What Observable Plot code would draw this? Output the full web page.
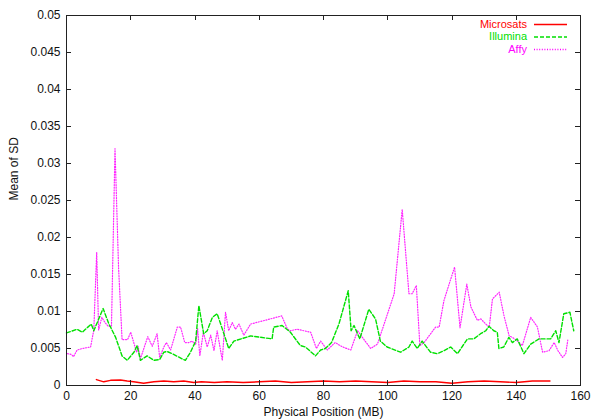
<!DOCTYPE html>
<html>
<head>
<meta charset="utf-8">
<script src="https://cdn.jsdelivr.net/npm/d3@7"></script>
<script src="https://cdn.jsdelivr.net/npm/@observablehq/plot@0.6"></script>
<style>
  html, body { margin: 0; padding: 0; background: #fff; }
  #chart { width: 600px; height: 420px; overflow: hidden; }
</style>
</head>
<body>
<div id="chart"></div>
<script>
// ---- Data ----
const seriesNames = ["Microsats", "Illumina", "Affy"];
const seriesColors = ["#ff0000", "#00e000", "#ff00ff"];

const microsatsPos = [9.3, 11.6, 13.7, 16.8, 18.9, 20.9, 24, 27.2, 30.3, 33.4, 36.5, 39.6, 42, 46, 50, 55, 60, 65, 70, 75, 80, 85, 90, 95, 100, 105, 110, 115, 120, 125, 130, 135, 140, 145, 150.5];
const microsatsSD = [0.0008, 0.0005, 0.0007, 0.00075, 0.0006, 0.0005, 0.0003, 0.0005, 0.0006, 0.0005, 0.0006, 0.0004, 0.0005, 0.0004, 0.0005, 0.0004, 0.0005, 0.0006, 0.0004, 0.0005, 0.0006, 0.0005, 0.0006, 0.0005, 0.0004, 0.0006, 0.0005, 0.0005, 0.0003, 0.0005, 0.0006, 0.0005, 0.0004, 0.0006, 0.0006];

const illuminaPos = [0, 3.3, 4.9, 5.9, 7.7, 8.5, 11.4, 13.2, 13.7, 15.3, 17.3, 18.9, 21, 22, 23, 25.1, 27.2, 29, 30.3, 31.3, 32.9, 36, 37, 38.6, 40.2, 41.2, 42.7, 43.8, 45.4, 46.9, 48, 50.5, 52.1, 57.3, 64, 64.5, 67.1, 69.7, 72.8, 74.4, 77.5, 79.1, 80.6, 82.5, 84.8, 87.7, 88.6, 89.5, 91.3, 94.1, 96.2, 97.7, 99.8, 104, 106.6, 107.6, 109.2, 110.7, 113.3, 115.4, 117.5, 119.6, 121.7, 124.8, 126.8, 128.9, 130.5, 131.5, 133, 134.1, 134.6, 136.1, 137.7, 138.8, 140.3, 142.4, 144.5, 147.1, 150.7, 152.3, 153.3, 154.8, 156.7, 157.9];
const illuminaSD = [0.0071, 0.0076, 0.0072, 0.0076, 0.0083, 0.0074, 0.0104, 0.0083, 0.0079, 0.0065, 0.0040, 0.0034, 0.0045, 0.0054, 0.0034, 0.0040, 0.0034, 0.0035, 0.0045, 0.0046, 0.0043, 0.0036, 0.0034, 0.0045, 0.0060, 0.0108, 0.0070, 0.0074, 0.0092, 0.0097, 0.0083, 0.0050, 0.0060, 0.0067, 0.0063, 0.0079, 0.0081, 0.0072, 0.0054, 0.0052, 0.0040, 0.0048, 0.0050, 0.0058, 0.0083, 0.0128, 0.0074, 0.0081, 0.0063, 0.0103, 0.0090, 0.0060, 0.0052, 0.0045, 0.0052, 0.0060, 0.0050, 0.0060, 0.0045, 0.0043, 0.0047, 0.0052, 0.0043, 0.0063, 0.0063, 0.0070, 0.0074, 0.0080, 0.0074, 0.0072, 0.0050, 0.0052, 0.0065, 0.0058, 0.0063, 0.0043, 0.0056, 0.0063, 0.0063, 0.0074, 0.0058, 0.0097, 0.0099, 0.0074];

const affyPos = [0.3, 1.5, 2.2, 3.3, 5, 7.5, 8.5, 9.4, 10, 11, 12, 13, 14, 15.1, 16.2, 17.3, 19, 20, 21.8, 22.3, 23, 25.3, 26.7, 28.2, 29, 30.3, 31.1, 32.4, 34.5, 35.5, 36.8, 38.1, 39.1, 40.2, 40.8, 41.5, 42.6, 43.8, 44.9, 45.9, 46.9, 48.5, 49.5, 50.5, 51.6, 52.6, 53.7, 55.2, 57.3, 67, 68.8, 69.7, 71.8, 76, 77.8, 79.1, 81.2, 83.6, 86, 88.5, 90.6, 92.1, 94.7, 96.8, 102, 104.5, 106.6, 107.6, 108.9, 110, 111.3, 114.9, 116, 117.5, 120.8, 122.5, 124.6, 125.9, 127.9, 129, 130.5, 131.6, 132.6, 134.7, 136.2, 137.8, 138.8, 140.4, 141.9, 144.5, 146.6, 148.2, 150.2, 151.8, 153, 154.4, 155.4, 156.1];
const affySD = [0.0043, 0.0042, 0.0039, 0.0048, 0.0050, 0.0052, 0.0075, 0.0180, 0.0075, 0.0092, 0.0085, 0.0080, 0.0080, 0.0320, 0.0160, 0.0062, 0.0062, 0.0072, 0.0045, 0.0053, 0.0036, 0.0066, 0.0053, 0.0070, 0.0038, 0.0052, 0.0058, 0.0048, 0.0079, 0.0079, 0.0058, 0.0058, 0.0060, 0.0055, 0.0077, 0.0040, 0.0072, 0.0052, 0.0068, 0.0047, 0.0074, 0.0034, 0.0099, 0.0074, 0.0085, 0.0076, 0.0083, 0.0068, 0.0083, 0.0094, 0.0076, 0.0074, 0.0076, 0.0072, 0.0050, 0.0060, 0.0048, 0.0058, 0.0052, 0.0048, 0.0074, 0.0065, 0.0050, 0.0056, 0.0124, 0.0238, 0.0124, 0.0124, 0.0135, 0.0054, 0.0058, 0.0079, 0.0079, 0.0115, 0.0160, 0.0078, 0.0137, 0.0106, 0.0088, 0.0090, 0.0083, 0.0079, 0.0117, 0.0126, 0.0094, 0.0067, 0.0065, 0.0060, 0.0054, 0.0092, 0.0079, 0.0045, 0.0047, 0.0058, 0.0047, 0.0038, 0.0043, 0.0063];

const xTicks = [0, 20, 40, 60, 80, 100, 120, 140, 160];
const yTicks = [0, 0.005, 0.01, 0.015, 0.02, 0.025, 0.03, 0.035, 0.04, 0.045, 0.05];
const yTickLabels = ["0", "0.005", "0.01", "0.015", "0.02", "0.025", "0.03", "0.035", "0.04", "0.045", "0.05"];
const xLabel = "Physical Position (MB)";
const yLabel = "Mean of SD";

// ---- Build tables ----
const toRows = (xs, ys) => xs.map((x, i) => ({x, y: ys[i]}));
const microsats = toRows(microsatsPos, microsatsSD);
const illumina = toRows(illuminaPos, illuminaSD);
const affy = toRows(affyPos, affySD);
const dashes = [null, "4,2", "1,1.6"];

// inward ticks on all four sides of the frame
function frameTicks(index, scales, values, dimensions) {
  const {x, y} = scales;
  const {width, height, marginLeft, marginRight, marginTop, marginBottom} = dimensions;
  const L = marginLeft, R = width - marginRight, T = marginTop, B = height - marginBottom;
  const len = 5;
  const g = d3.create("svg:g").attr("stroke", "#222").attr("stroke-width", 1);
  for (const t of xTicks) {
    const px = Math.round(x(t)) + 0.5;
    g.append("line").attr("x1", px).attr("x2", px).attr("y1", B).attr("y2", B - len);
    g.append("line").attr("x1", px).attr("x2", px).attr("y1", T).attr("y2", T + len);
  }
  for (const t of yTicks) {
    const py = Math.round(y(t)) + 0.5;
    g.append("line").attr("y1", py).attr("y2", py).attr("x1", L).attr("x2", L + len);
    g.append("line").attr("y1", py).attr("y2", py).attr("x1", R).attr("x2", R - len);
  }
  return g.node();
}

function legend(index, scales, values, dimensions) {
  const {width, marginRight, marginTop} = dimensions;
  const R = width - marginRight;
  const g = d3.create("svg:g");
  seriesNames.forEach((name, i) => {
    const cy = marginTop + 9 + i * 12.5;
    g.append("text")
      .attr("x", R - 53).attr("y", cy).attr("dy", "0.35em")
      .attr("text-anchor", "end")
      .attr("fill", seriesColors[i])
      .attr("font-size", 11)
      .text(name);
    g.append("line")
      .attr("x1", R - 46).attr("x2", R - 13)
      .attr("y1", cy + 0.5).attr("y2", cy + 0.5)
      .attr("stroke", seriesColors[i])
      .attr("stroke-width", 1.4)
      .attr("stroke-dasharray", dashes[i]);
  });
  return g.node();
}

const chart = Plot.plot({
  width: 600,
  height: 420,
  marginLeft: 66,
  marginRight: 20,
  marginTop: 15,
  marginBottom: 35,
  style: {fontFamily: "'Liberation Sans', Arial, Helvetica, sans-serif", fontSize: "12px", background: "#fff", color: "#111"},
  x: {domain: [0, 160]},
  y: {domain: [0, 0.05]},
  marks: [
    Plot.axisX({ticks: xTicks, tickSize: 0, tickPadding: 6, label: null, fontSize: 12}),
    Plot.axisY({ticks: yTicks, tickSize: 0, tickPadding: 6, label: null, fontSize: 12,
      tickFormat: d => yTickLabels[yTicks.findIndex(t => Math.abs(t - d) < 1e-9)]}),
    Plot.line(affy, {x: "x", y: "y", stroke: seriesColors[2], strokeWidth: 1.2, strokeDasharray: dashes[2], strokeOpacity: 0.85}),
    Plot.line(illumina, {x: "x", y: "y", stroke: seriesColors[1], strokeWidth: 1.4, strokeDasharray: dashes[1]}),
    Plot.line(microsats, {x: "x", y: "y", stroke: seriesColors[0], strokeWidth: 1.4}),
    Plot.frame({stroke: "#222", strokeWidth: 1}),
    frameTicks,
    legend,
    Plot.text([xLabel], {frameAnchor: "bottom", dy: 30, fontSize: 12, fill: "#111"}),
    Plot.text([yLabel], {frameAnchor: "left", dx: -52, rotate: -90, fontSize: 12, fill: "#111"})
  ]
});
document.getElementById("chart").appendChild(chart);
</script>
</body>
</html>
